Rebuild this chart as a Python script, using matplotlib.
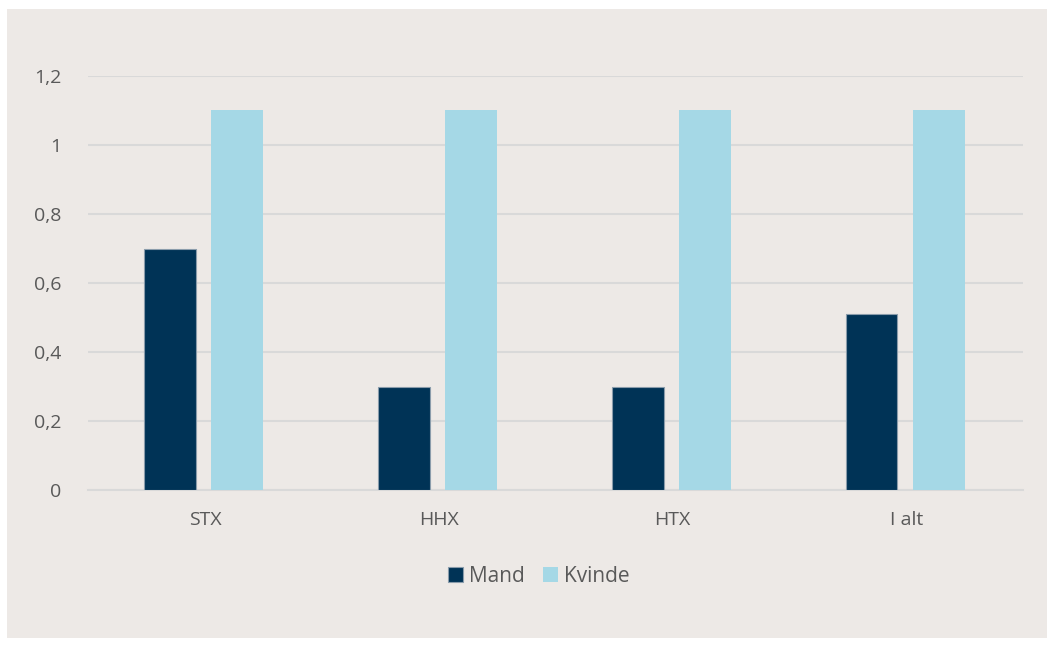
import matplotlib
matplotlib.use("Agg")
import matplotlib.pyplot as plt
from matplotlib.patches import Rectangle
import numpy as np

categories = ["STX", "HHX", "HTX", "I alt"]
mand = [0.70, 0.30, 0.30, 0.51]
kvinde = [1.10, 1.10, 1.10, 1.10]
yticks = [0, 0.2, 0.4, 0.6, 0.8, 1.0, 1.2]
ytick_labels = ["0", "0,2", "0,4", "0,6", "0,8", "1", "1,2"]

plt.rcParams['font.family'] = ['Open Sans', 'DejaVu Sans']
W, H = 1053, 645
bg = "#ede9e6"
txt = "#595959"

fig = plt.figure(figsize=(W/100, H/100), dpi=100, facecolor="white")
fig.patches.append(Rectangle((7/W, 7/H), (1047-7)/W, (636-7)/H, transform=fig.transFigure,
                             facecolor=bg, edgecolor="none", zorder=-10))

ax = fig.add_axes([88/W, (H-490)/H, (1023-88)/W, (490-76)/H])
ax.set_zorder(5)
ax.set_facecolor("none")

x = np.arange(len(categories))
w = 0.222
ax.bar(x - 0.148, mand, width=w, color="#003356", edgecolor="#8a9cab", linewidth=0.8,
       label="Mand", zorder=3)
ax.bar(x + 0.139, kvinde, width=w, color="#a5d8e6", edgecolor="none", label="Kvinde", zorder=3)

ax.set_xlim(-0.5, len(categories) - 0.5)
ax.set_ylim(0, 1.2)
ax.set_yticks(yticks)
ax.set_yticklabels(ytick_labels)
ax.set_xticks(x)
ax.set_xticklabels(categories)
ax.grid(axis="y", color="#d9d9d9", linewidth=1.5, zorder=0)
for s in ["top", "right", "left"]:
    ax.spines[s].set_visible(False)
ax.spines["bottom"].set_color("#d9d9d9")
ax.spines["bottom"].set_linewidth(1.5)
ax.tick_params(axis="both", length=0, labelsize=14, colors=txt)
ax.tick_params(axis="y", pad=19)
ax.tick_params(axis="x", pad=15)

leg = fig.legend(loc="center", bbox_to_anchor=(539/W, (H-576)/H), ncol=2, frameon=False,
                 fontsize=15, handlelength=0.7, handleheight=0.7, handletextpad=0.3,
                 columnspacing=0.9)
leg.set_zorder(6)
for t in leg.get_texts():
    t.set_color(txt)

fig.savefig("out.png", dpi=100, facecolor="white")
